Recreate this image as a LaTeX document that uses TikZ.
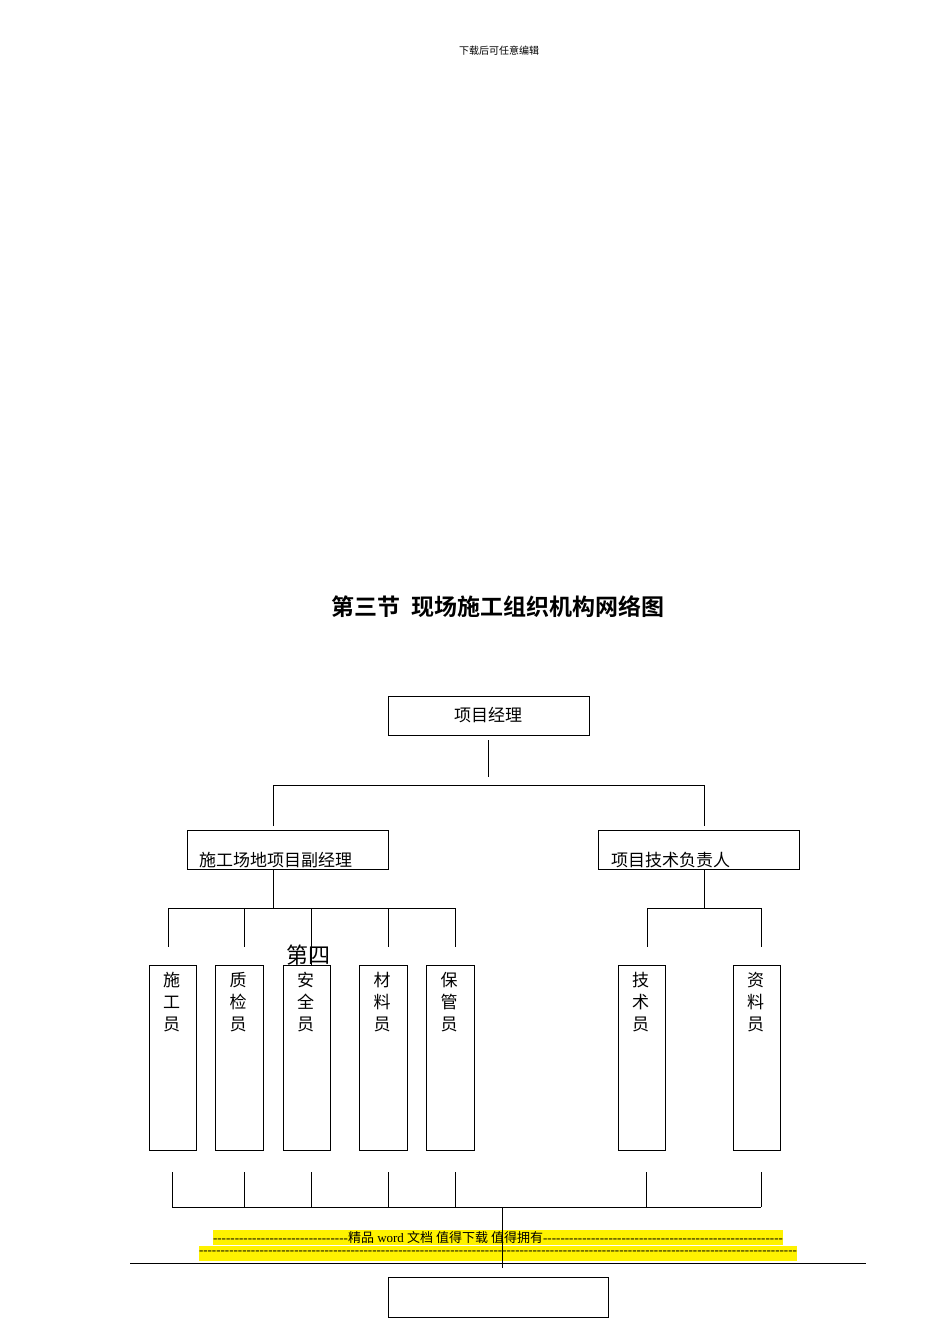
\documentclass[tikz,border=0pt]{standalone}
\usepackage{fontspec}
\setmainfont{Liberation Serif}
\newfontfamily\cjk{Noto Sans CJK SC}
\newfontfamily\cjkb{Noto Sans CJK SC Bold}
\begin{document}
\begin{tikzpicture}[x=1pt,y=-1pt,
  bx/.style={draw,line width=0.8pt},
  ln/.style={line width=0.8pt},
  lbl/.style={font=\cjk\fontsize{17}{17}\selectfont,inner sep=0pt,anchor=base},
  vlbl/.style={font=\cjk\fontsize{17}{22}\selectfont,inner sep=0pt,align=center,anchor=north}]
\useasboundingbox (0,0) rectangle (950,1344);
\node[font=\cjk\fontsize{10}{10}\selectfont] (hdr) at (499,51) {下载后可任意编辑};
\node[font=\cjkb\fontsize{23}{23}\selectfont] (title) at (498,607) {第三节\ \ 现场施工组织机构网络图};
% top box
\draw[bx] (388,696) rectangle (589,735);
\node[lbl] (pm) at (488,721) {项目经理};
\coordinate (pmb) at (488,740);
\coordinate (pmc) at (488,777);
\draw[ln] (pmb) -- (pmc);
\draw[ln] (273,826) -- (273,785) -- (704,785) -- (704,826);
% second level
\draw[bx] (187,830) rectangle (388,869);
\node[lbl,anchor=base west] (dep) at (199,866) {施工场地项目副经理};
\draw[bx] (598,830) rectangle (799,869);
\node[lbl,anchor=base west] (tech) at (611,866) {项目技术负责人};
\draw[ln] (273,869) -- (273,908);
\draw[ln] (168,908) -- (455,908);
\foreach \x in {168,244,388,455} \draw[ln] (\x,908) -- (\x,947);
\draw[ln] (311,908) -- (311,965);
\draw[ln] (704,869) -- (704,908);
\draw[ln] (647,908) -- (761,908);
\foreach \x in {647,761} \draw[ln] (\x,908) -- (\x,947);
\node[font=\cjk\fontsize{22}{22}\selectfont,inner sep=0pt] (d4) at (308,955) {第四};
% bottom boxes
\foreach \a/\b/\t in {149/196/施\\工\\员,215/263/质\\检\\员,283/330/安\\全\\员,359/407/材\\料\\员,426/474/保\\管\\员,618/665/技\\术\\员,733/780/资\\料\\员}{
  \draw[bx] (\a,965) rectangle (\b,1150);
  \node[vlbl] at ({(\a+\b)/2-1},972) {\t};
}
% bottom connectors
\foreach \x in {172,244,311,388,455,646,761} \draw[ln] (\x,1172) -- (\x,1207);
\draw[ln] (172,1207) -- (761,1207);
% yellow bands
\fill[yellow] (213,1230) rectangle (783,1245);
\fill[yellow] (199,1246) rectangle (797,1261);
\node[inner sep=0pt,font=\fontsize{13}{13}\selectfont] (y1) at (498,1238) {\hbox to 570pt{\hbox to 135pt{\xleaders\hbox{-}\hfill}{\cjk 精品}~word~{\cjk 文档 值得下载 值得拥有}\xleaders\hbox{-}\hfill}};
\node[inner sep=0pt,font=\fontsize{13}{13}\selectfont] (y2) at (498,1253) {\hbox to 598pt{\xleaders\hbox{-}\hfill}};
\draw[ln] (502,1207) -- (502,1268);
\draw[ln] (130,1263) -- (866,1263);
\draw[bx] (388,1277) rectangle (608,1317);
\end{tikzpicture}
\end{document}
